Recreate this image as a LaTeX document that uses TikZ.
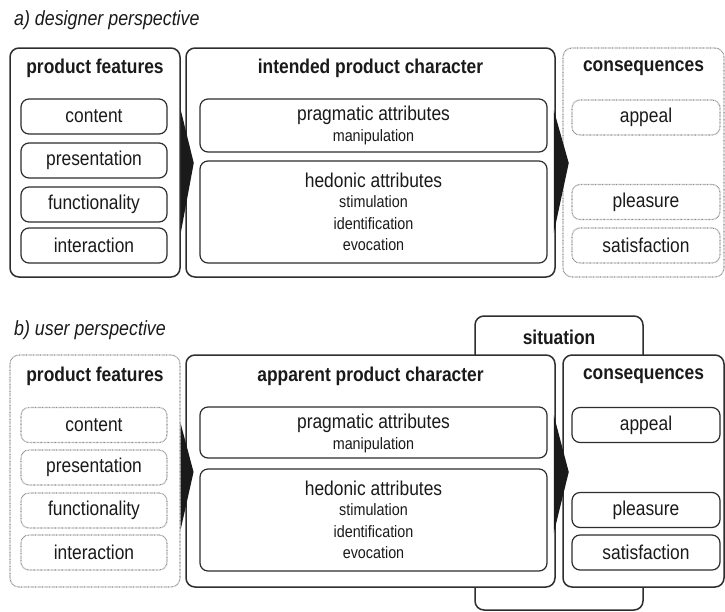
\documentclass[tikz,border=0pt]{standalone}
\usepackage{fontspec}
\setmainfont{Liberation Sans}[FakeStretch=0.87]
\usetikzlibrary{calc}
\definecolor{ink}{HTML}{1A1A1A}
\definecolor{rule}{HTML}{2E2E2E}
\newcommand\fHead{\fontsize{20.5}{22}\selectfont\itshape}
\newcommand\fTitle{\fontsize{20}{22}\selectfont\bfseries}
\newcommand\fItem{\fontsize{20}{22}\selectfont}
\newcommand\fSmall{\fontsize{16.5}{18}\selectfont}
\begin{document}
\begin{tikzpicture}[x=1pt,y=-1pt,
  outer/.style={draw=rule, line width=1.5pt, rounded corners=9pt, fill=white, inner sep=0pt},
  faintouter/.style={draw=black!45, line width=1.1pt, dash pattern=on 0.7pt off 0.7pt, rounded corners=9pt, fill=white, inner sep=0pt},
  inner/.style={draw=rule, line width=1.2pt, rounded corners=8pt, inner sep=0pt},
  faintinner/.style={draw=black!45, line width=1.1pt, dash pattern=on 0.7pt off 0.7pt, rounded corners=8pt, inner sep=0pt},
  item/.style={minimum width=146pt, minimum height=35pt, font=\fItem, text=ink},
  cons/.style={minimum width=148pt, minimum height=35pt, font=\fItem, text=ink},
  title/.style={font=\fTitle, text=ink, inner sep=0pt},
  head/.style={font=\fHead, text=ink, inner sep=0pt, anchor=west},
  attr/.style={font=\fItem, text=ink, inner sep=0pt},
  sub/.style={font=\fSmall, text=ink, inner sep=0pt},
  wedge/.style={fill=ink, draw=none}]
\useasboundingbox (0,0) rectangle (725,611);

% ---------- a) designer perspective ----------
\node[head] (headA) at (14,20) {a) designer perspective};

\node[outer, minimum width=170pt, minimum height=229pt] (pfA) at (95,162.5) {};
\node[title] (pfAt) at (95,68) {product features};
\node[inner, item] (contA) at (94,116.5) {content};
\node[inner, item] (presA) at (94,160.5) {presentation};
\node[inner, item] (funcA) at (94,204.5) {functionality};
\node[inner, item] (interA) at (94,245.5) {interaction};

\node[outer, minimum width=369pt, minimum height=229pt] (icA) at (370.5,162.5) {};
\node[title] (icAt) at (370.5,68) {intended product character};
\node[inner, minimum width=347pt, minimum height=53pt] (pragA) at (373.5,125.5) {};
\node[attr] (pragAt) at (373.5,115) {pragmatic attributes};
\node[sub] (pragA1) at (373.5,137) {manipulation};
\node[inner, minimum width=347pt, minimum height=102pt] (hedA) at (373.5,212) {};
\node[attr] (hedAt) at (373.5,180) {hedonic attributes};
\node[sub] (hedA1) at (373.5,202) {stimulation};
\node[sub] (hedA2) at (373.5,224) {identification};
\node[sub] (hedA3) at (373.5,245) {evocation};

\node[faintouter, minimum width=161pt, minimum height=229pt] (csA) at (643.5,162.5) {};
\node[title] (csAt) at (643.5,68) {consequences};
\node[faintinner, cons] (appA) at (646,117.5) {appeal};
\node[faintinner, cons] (pleaA) at (646,202) {pleasure};
\node[faintinner, cons] (satA) at (646,245.5) {satisfaction};

\fill[wedge] ($(pfA.east)+(0,-52.5)$) -- ($(pfA.east)+(13,0.5)$) -- ($(pfA.east)+(0,70.5)$) -- cycle;
\fill[wedge] ($(icA.east)+(-2,-52.5)$) -- ($(icA.east)+(13,0.5)$) -- ($(icA.east)+(-2,70.5)$) -- cycle;

% ---------- b) user perspective ----------
\node[head] (headB) at (14,330) {b) user perspective};

\node[outer, minimum width=168pt, minimum height=294pt] (sit) at (559,463) {};
\node[title] (sitt) at (559,337) {situation};

\node[faintouter, minimum width=170pt, minimum height=232pt] (pfB) at (95,471) {};
\node[title] (pfBt) at (95,376) {product features};
\node[faintinner, item] (contB) at (94,425) {content};
\node[faintinner, item] (presB) at (94,467.5) {presentation};
\node[faintinner, item] (funcB) at (94,510.5) {functionality};
\node[faintinner, item] (interB) at (94,552.5) {interaction};

\node[outer, minimum width=369pt, minimum height=232pt] (acB) at (370.5,471) {};
\node[title] (acBt) at (370.5,376) {apparent product character};
\node[inner, minimum width=347pt, minimum height=51pt] (pragB) at (373.5,432.5) {};
\node[attr] (pragBt) at (373.5,423) {pragmatic attributes};
\node[sub] (pragB1) at (373.5,445) {manipulation};
\node[inner, minimum width=347pt, minimum height=102pt] (hedB) at (373.5,520) {};
\node[attr] (hedBt) at (373.5,488) {hedonic attributes};
\node[sub] (hedB1) at (373.5,510) {stimulation};
\node[sub] (hedB2) at (373.5,532) {identification};
\node[sub] (hedB3) at (373.5,553) {evocation};

\node[outer, minimum width=161pt, minimum height=232pt] (csB) at (643.5,471) {};
\node[title] (csBt) at (643.5,376) {consequences};
\node[inner, cons] (appB) at (646,425) {appeal};
\node[inner, cons] (pleaB) at (646,510) {pleasure};
\node[inner, cons] (satB) at (646,552.5) {satisfaction};

\fill[wedge] ($(pfB.east)+(0,-48)$) -- ($(pfB.east)+(13,1)$) -- ($(pfB.east)+(0,59)$) -- cycle;
\fill[wedge] ($(acB.east)+(-2,-56)$) -- ($(acB.east)+(13,1)$) -- ($(acB.east)+(-2,62)$) -- cycle;
\end{tikzpicture}
\end{document}
